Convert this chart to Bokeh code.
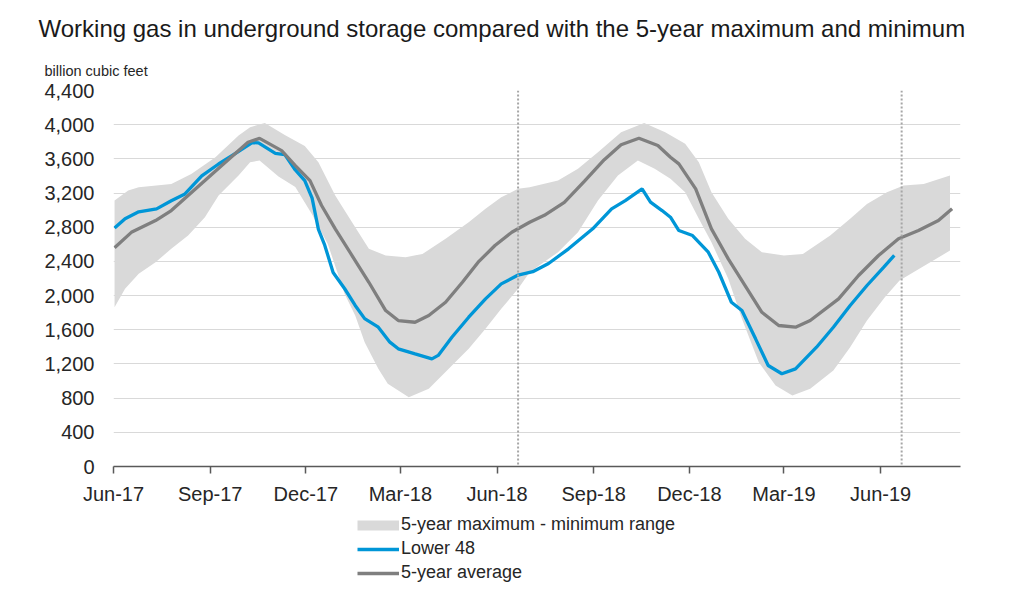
import pandas as pd
from bokeh.plotting import figure
from bokeh.layouts import column
from bokeh.models import (Range1d, FixedTicker, Span, Title, Legend, LegendItem,
                          NumeralTickFormatter, ColumnDataSource)
from bokeh.embed import file_html
from bokeh.resources import INLINE

# ---------------- data (billion cubic feet) ----------------
lower48_dates = ["2017-06-02", "2017-06-12", "2017-06-25", "2017-07-12", "2017-07-26", "2017-08-08",
                 "2017-08-24", "2017-09-09", "2017-09-27", "2017-10-11", "2017-10-17", "2017-11-02",
                 "2017-11-11", "2017-11-21", "2017-11-30", "2017-12-07", "2017-12-13", "2017-12-19",
                 "2017-12-27", "2018-01-07", "2018-01-17", "2018-01-26", "2018-02-08", "2018-02-19",
                 "2018-02-27", "2018-03-15", "2018-03-31", "2018-04-06", "2018-04-19", "2018-05-05",
                 "2018-05-21", "2018-06-05", "2018-06-21", "2018-07-05", "2018-07-20", "2018-08-08",
                 "2018-08-31", "2018-09-18", "2018-10-01", "2018-10-17", "2018-10-25", "2018-11-05",
                 "2018-11-13", "2018-11-21", "2018-12-04", "2018-12-19", "2018-12-29", "2019-01-10",
                 "2019-01-20", "2019-02-02", "2019-02-14", "2019-02-27", "2019-03-12", "2019-04-01",
                 "2019-04-17", "2019-05-03", "2019-05-19", "2019-06-04", "2019-06-14"]
lower48 = [2790, 2900, 2980, 3015, 3110, 3190,
           3400, 3540, 3680, 3790, 3787, 3665,
           3650, 3470, 3346, 3140, 2775, 2590,
           2270, 2080, 1885, 1730, 1630, 1455,
           1377, 1318, 1260, 1300, 1513, 1747,
           1962, 2137, 2240, 2280, 2375, 2547,
           2781, 3015, 3112, 3249, 3093, 2995,
           2917, 2761, 2703, 2508, 2273, 1922,
           1825, 1494, 1182, 1085, 1143, 1396,
           1630, 1884, 2118, 2332, 2470]

avg5_dates = ["2017-06-02", "2017-06-18", "2017-07-11", "2017-07-26", "2017-08-11", "2017-08-27",
              "2017-09-12", "2017-10-07", "2017-10-18", "2017-11-08", "2017-11-21", "2017-12-05",
              "2017-12-16", "2017-12-29", "2018-01-14", "2018-01-30", "2018-02-15", "2018-02-27",
              "2018-03-15", "2018-03-28", "2018-04-13", "2018-04-29", "2018-05-14", "2018-05-30",
              "2018-06-15", "2018-07-02", "2018-07-16", "2018-08-04", "2018-08-23", "2018-09-11",
              "2018-09-27", "2018-10-14", "2018-11-01", "2018-11-13", "2018-11-21", "2018-12-07",
              "2018-12-22", "2019-01-07", "2019-01-23", "2019-02-08", "2019-02-24", "2019-03-12",
              "2019-03-26", "2019-04-22", "2019-05-11", "2019-05-30", "2019-06-18", "2019-07-07",
              "2019-07-26", "2019-08-08"]
avg5 = [2560, 2740, 2878, 2995, 3171, 3346,
        3522, 3795, 3840, 3697, 3522, 3346,
        3054, 2781, 2469, 2156, 1825, 1708,
        1688, 1767, 1922, 2156, 2391, 2586,
        2741, 2858, 2940, 3090, 3336, 3590,
        3766, 3841, 3756, 3619, 3541, 3249,
        2781, 2430, 2118, 1805, 1650, 1630,
        1708, 1962, 2235, 2469, 2664, 2761,
        2878, 3015]

max5_dates = ["2017-06-02", "2017-06-15", "2017-06-25", "2017-07-26", "2017-08-14", "2017-09-06",
              "2017-09-28", "2017-10-09", "2017-10-23", "2017-11-11", "2017-11-30", "2017-12-13",
              "2017-12-29", "2018-01-14", "2018-01-30", "2018-02-15", "2018-03-06", "2018-03-22",
              "2018-04-13", "2018-05-05", "2018-05-21", "2018-06-05", "2018-06-21", "2018-07-02",
              "2018-07-29", "2018-08-17", "2018-09-05", "2018-09-27", "2018-10-19", "2018-11-08",
              "2018-11-27", "2018-12-10", "2018-12-22", "2019-01-07", "2019-01-23", "2019-02-08",
              "2019-03-01", "2019-03-19", "2019-04-14", "2019-05-03", "2019-05-19", "2019-06-07",
              "2019-06-23", "2019-07-12", "2019-08-06"]
max5 = [3112, 3229, 3268, 3307, 3424, 3619,
        3873, 3970, 4020, 3880, 3750, 3560,
        3171, 2858, 2547, 2469, 2449, 2488,
        2664, 2858, 3015, 3151, 3249, 3268,
        3346, 3483, 3677, 3911, 4021, 3911,
        3776, 3560, 3209, 2898, 2664, 2508,
        2469, 2488, 2703, 2898, 3073, 3209,
        3288, 3307, 3405]

min5_dates = ["2017-06-02", "2017-06-12", "2017-06-25", "2017-07-11", "2017-07-26", "2017-08-11",
              "2017-08-27", "2017-09-09", "2017-09-28", "2017-10-09", "2017-10-18", "2017-11-05",
              "2017-11-21", "2017-12-07", "2017-12-22", "2018-01-07", "2018-01-17", "2018-01-26",
              "2018-02-08", "2018-02-17", "2018-03-09", "2018-03-28", "2018-04-16", "2018-05-05",
              "2018-05-21", "2018-06-05", "2018-06-21", "2018-07-02", "2018-07-29", "2018-08-17",
              "2018-09-05", "2018-09-24", "2018-10-13", "2018-10-29", "2018-11-13", "2018-11-27",
              "2018-12-10", "2018-12-22", "2019-01-07", "2019-01-20", "2019-02-05", "2019-02-21",
              "2019-03-09", "2019-03-26", "2019-04-17", "2019-05-03", "2019-05-19", "2019-06-05",
              "2019-06-19", "2019-07-05", "2019-08-06"]
min5 = [1864, 2079, 2255, 2391, 2547, 2703,
        2917, 3171, 3405, 3560, 3580, 3395,
        3270, 2950, 2600, 2020, 1767, 1455,
        1143, 967, 811, 909, 1143, 1377,
        1611, 1845, 2079, 2273, 2508, 2741,
        3112, 3405, 3580, 3483, 3366, 3209,
        2898, 2624, 2196, 1728, 1221, 948,
        831, 909, 1123, 1396, 1708, 1981,
        2176, 2293, 2527]

marker_dates = ["2018-06-21", "2019-06-21"]

x_tick_dates = ["2017-06-01", "2017-09-01", "2017-12-01", "2018-03-01", "2018-06-01",
                "2018-09-01", "2018-12-01", "2019-03-01", "2019-06-01"]
x_tick_labels = ["Jun-17", "Sep-17", "Dec-17", "Mar-18", "Jun-18",
                 "Sep-18", "Dec-18", "Mar-19", "Jun-19"]
y_ticks = [0, 400, 800, 1200, 1600, 2000, 2400, 2800, 3200, 3600, 4000, 4400]

title_text = "Working gas in underground  storage compared with the 5-year maximum and minimum"
unit_text = "billion cubic feet"
legend_labels = ["5-year maximum - minimum range", "Lower 48", "5-year average"]

# ---------------- helpers ----------------
def ms(d):
    return int(pd.Timestamp(d).value // 10**6)

FONT = "Liberation Sans"
BAND = "#d9d9d9"
BLUE = "#0096d7"
GRAY = "#7f7f7f"

p = figure(width=1010, height=510, x_axis_type="datetime",
           output_backend="svg", toolbar_location=None,
           x_range=Range1d(ms("2017-06-01"), ms("2019-08-16")),
           y_range=Range1d(0, 4400),
           min_border_left=113, min_border_right=50,
           min_border_top=90, min_border_bottom=44)
p.outline_line_color = None
p.background_fill_color = "white"

# band
band_x = [ms(d) for d in max5_dates] + [ms(d) for d in reversed(min5_dates)]
band_y = list(max5) + list(reversed(min5))
src_band = ColumnDataSource(dict(x=band_x, y=band_y))
p.patch("x", "y", source=src_band, fill_color=BAND, line_color=None)

# vertical dotted markers
for d in marker_dates:
    p.add_layout(Span(location=ms(d), dimension="height", line_color="#a6a6a6",
                      line_width=2, line_dash="2 2"))

src_l48 = ColumnDataSource(dict(x=[ms(d) for d in lower48_dates], y=lower48))
src_avg = ColumnDataSource(dict(x=[ms(d) for d in avg5_dates], y=avg5))
p.line("x", "y", source=src_l48, line_color=BLUE, line_width=3.3)
p.line("x", "y", source=src_avg, line_color=GRAY, line_width=3.3)

# axes
p.xaxis.ticker = FixedTicker(ticks=[ms(d) for d in x_tick_dates])
p.xaxis.major_label_overrides = {ms(d): lab for d, lab in zip(x_tick_dates, x_tick_labels)}
p.xaxis.axis_line_color = "#595959"
p.xaxis.axis_line_width = 1.5
p.xaxis.major_tick_line_color = "#595959"
p.xaxis.major_tick_line_width = 1.5
p.xaxis.major_tick_out = 7
p.xaxis.major_tick_in = 0
p.xaxis.minor_tick_line_color = None
p.xaxis.major_label_text_font = FONT
p.xaxis.major_label_text_font_size = "20px"
p.xaxis.major_label_text_color = "#262626"
p.xaxis.major_label_standoff = 9

p.yaxis.ticker = FixedTicker(ticks=y_ticks)
p.yaxis.formatter = NumeralTickFormatter(format="0,0")
p.yaxis.axis_line_color = None
p.yaxis.major_tick_line_color = None
p.yaxis.minor_tick_line_color = None
p.yaxis.major_label_text_font = FONT
p.yaxis.major_label_text_font_size = "20px"
p.yaxis.major_label_text_color = "#262626"
p.yaxis.major_label_standoff = 13

p.xgrid.visible = False
p.ygrid.grid_line_color = "#d9d9d9"
p.ygrid.grid_line_width = 1

# title (outer) and unit label (inner, added later -> closer to frame)
p.title.text = title_text
p.title.text_font = FONT
p.title.text_font_size = "24px"
p.title.text_font_style = "normal"
p.title.text_color = "#1a1a1a"
p.title.align = "left"
p.title.offset = -75
p.title.standoff = 14
p.add_layout(Title(text=unit_text, text_font=FONT, text_font_size="14.5px",
                   text_font_style="normal", text_color="#262626", align="left",
                   offset=-69, standoff=24), "above")

# ---------------- legend figure ----------------
# The legend's glyphs are drawn by renderers that reuse the series data; those
# data lie far outside this strip's ranges, so only the legend swatches show.
lg = figure(width=1010, height=80, output_backend="svg", toolbar_location=None,
            x_range=Range1d(0, 1010), y_range=Range1d(0, 80),
            min_border_left=0, min_border_right=0, min_border_top=0, min_border_bottom=0)
lg.axis.visible = False
lg.grid.visible = False
lg.outline_line_color = None
r_band_sw = lg.line("x", "y", source=src_band, line_color=BAND, line_width=10)
r_l48_sw = lg.line("x", "y", source=src_l48, line_color=BLUE, line_width=3.3)
r_avg_sw = lg.line("x", "y", source=src_avg, line_color=GRAY, line_width=3.3)

legend = Legend(items=[LegendItem(label=legend_labels[0], renderers=[r_band_sw]),
                       LegendItem(label=legend_labels[1], renderers=[r_l48_sw]),
                       LegendItem(label=legend_labels[2], renderers=[r_avg_sw])],
                location=(244, 7), orientation="vertical",
                background_fill_alpha=0, border_line_color=None,
                label_text_font=FONT, label_text_font_size="18px", label_text_color="#262626",
                glyph_width=42, glyph_height=20, label_height=20, spacing=3,
                padding=0, margin=0, label_standoff=2)
lg.add_layout(legend)

layout = column(p, lg, spacing=0)
open("out.html", "w").write(file_html(layout, INLINE))
